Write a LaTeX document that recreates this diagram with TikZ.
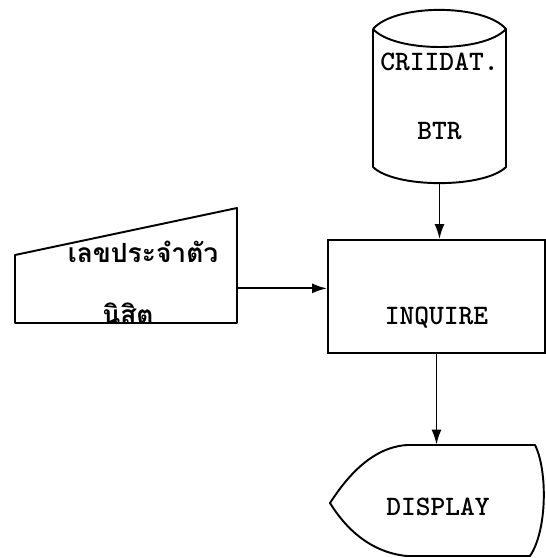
\documentclass[tikz,border=0pt]{standalone}
\usepackage{fontspec}
\newfontfamily\thaifont[Script=Thai]{Loma}
\usetikzlibrary{arrows.meta,positioning}

\begin{document}
\begin{tikzpicture}[
  shapebox/.style={inner sep=0pt, align=center, font=\ttfamily\bfseries\fontsize{16}{19}\selectfont},
  procbox/.style={draw, line width=1.1pt, inner sep=0pt, font=\ttfamily\bfseries\fontsize{16}{19}\selectfont},
  outline/.style={line width=1.1pt, line join=round},
  thai/.style={inner sep=0pt, font=\thaifont\bfseries\fontsize{15}{18}\selectfont},
  flow/.style={-{Latex[length=3mm,width=2mm]}, line width=1.1pt}
]
\useasboundingbox (0,0) rectangle (10.92,-11.16);

% data file on disk
\node[shapebox, minimum width=2.66cm, minimum height=3.46cm] (datafile) at (8.79,-1.93)
  {CRIIDAT.\\[7mm]BTR};
\draw[outline] (7.46,-0.58) .. controls (7.9,-0.07) and (9.68,-0.07) .. (10.12,-0.58)
  .. controls (9.68,-1.06) and (7.9,-1.06) .. (7.46,-0.58);
\draw[outline] (7.46,-0.58) -- (7.46,-3.34)
  .. controls (7.9,-3.77) and (9.68,-3.77) .. (10.12,-3.34) -- (10.12,-0.58);

% keyed input
\node[inner sep=0pt, minimum width=4.44cm, minimum height=2.30cm] (studentid) at (2.52,-5.31) {};
\draw[outline] (0.30,-5.10) -- (4.74,-4.16) -- (4.74,-6.46) -- (0.30,-6.46) -- cycle;
\node[thai] (idtop) at (2.86,-5.04) {เลขประจำตัว};
\node[thai] (idbottom) at (2.56,-6.28) {นิสิต};

% process
\node[procbox, minimum width=4.34cm, minimum height=2.26cm, text height=1.3cm, text depth=0.2cm]
  (inquire) at (8.73,-5.93) {INQUIRE};

% display
\node[shapebox, minimum width=4.32cm, minimum height=2.22cm, text height=0.8cm, text depth=0.2cm]
  (display) at (8.76,-10.01) {DISPLAY};
\draw[outline] (8.14,-8.90) .. controls (7.4,-8.95) and (6.9,-9.6) .. (6.60,-10.06)
  .. controls (6.9,-10.55) and (7.4,-11.05) .. (8.14,-11.12) -- (10.60,-11.12)
  .. controls (10.95,-10.6) and (10.95,-9.4) .. (10.70,-8.90) -- cycle;

\draw[flow] (datafile.south) -- (datafile.south |- inquire.north);
\draw[flow] ([yshift=7mm]studentid.south east) -- ([yshift=7mm]studentid.south east -| inquire.west);
\draw[flow] (inquire.south) -- (inquire.south |- display.north);
\end{tikzpicture}
\end{document}
